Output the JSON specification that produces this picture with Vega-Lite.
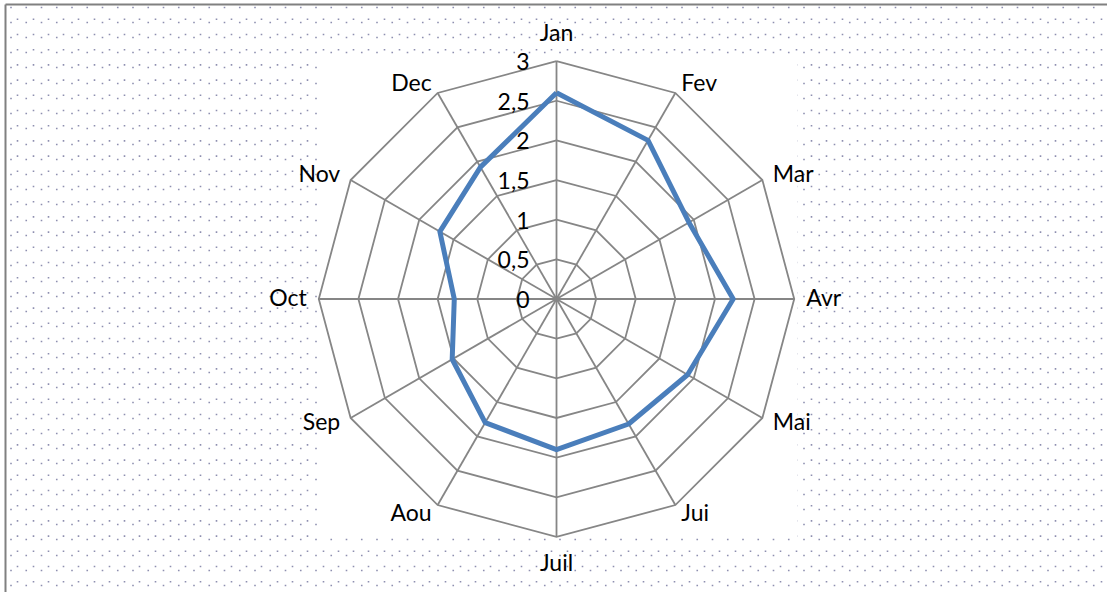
{
  "$schema": "https://vega.github.io/schema/vega-lite/v6.json",
  "width": 1107,
  "height": 592,
  "autosize": {"type": "fit", "contains": "padding"},
  "padding": {"left": 5, "top": 4, "right": 0, "bottom": 0},
  "background": "#ffffff",
  "view": {"stroke": null, "fill": null},
  "config": {"view": {"stroke": null}, "font": "Lato"},
  "datasets": {
    "months": [
      {"m": "Jan", "i": 0, "v": 2.6},
      {"m": "Fev", "i": 1, "v": 2.31},
      {"m": "Mar", "i": 2, "v": 1.93},
      {"m": "Avr", "i": 3, "v": 2.23},
      {"m": "Mai", "i": 4, "v": 1.91},
      {"m": "Jui", "i": 5, "v": 1.82},
      {"m": "Juil", "i": 6, "v": 1.9},
      {"m": "Aou", "i": 7, "v": 1.8},
      {"m": "Sep", "i": 8, "v": 1.52},
      {"m": "Oct", "i": 9, "v": 1.29},
      {"m": "Nov", "i": 10, "v": 1.7},
      {"m": "Dec", "i": 11, "v": 1.92},
      {"m": "Jan", "i": 12, "v": 2.6}
    ],
    "rings": [
      {"level": 0.5, "i": [0,1,2,3,4,5,6,7,8,9,10,11,12]},
      {"level": 1, "i": [0,1,2,3,4,5,6,7,8,9,10,11,12]},
      {"level": 1.5, "i": [0,1,2,3,4,5,6,7,8,9,10,11,12]},
      {"level": 2, "i": [0,1,2,3,4,5,6,7,8,9,10,11,12]},
      {"level": 2.5, "i": [0,1,2,3,4,5,6,7,8,9,10,11,12]},
      {"level": 3, "i": [0,1,2,3,4,5,6,7,8,9,10,11,12]}
    ],
    "ticks": [
      {"t": 0, "lab": "0"},
      {"t": 0.5, "lab": "0,5"},
      {"t": 1, "lab": "1"},
      {"t": 1.5, "lab": "1,5"},
      {"t": 2, "lab": "2"},
      {"t": 2.5, "lab": "2,5"},
      {"t": 3, "lab": "3"}
    ]
  },
  "encoding": {
    "x": {
      "field": "x",
      "type": "quantitative",
      "scale": {"domain": [-551, 550], "nice": false, "zero": false},
      "axis": {
        "orient": "top",
        "title": null,
        "labels": false,
        "ticks": false,
        "domain": true,
        "domainColor": "#808080",
        "domainWidth": 2,
        "grid": true,
        "gridColor": "#8e8fb0",
        "gridWidth": 1.6,
        "gridDash": [1.6, 13.6],
        "gridDashOffset": 5.2,
        "zindex": 0,
        "values": [-538.75,-523.5,-508.25,-493,-477.75,-462.5,-447.25,-432,-416.75,-401.5,-386.25,-371,-355.75,-340.5,-325.25,-310,-294.75,-279.5,-264.25,-249,-233.75,-218.5,-203.25,-188,-172.75,-157.5,-142.25,-127,-111.75,-96.5,-81.25,-66,-50.75,-35.5,-20.25,-5,10.25,25.5,40.75,56,71.25,86.5,101.75,117,132.25,147.5,162.75,178,193.25,208.5,223.75,239,254.25,269.5,284.75,300,315.25,330.5,345.75,361,376.25,391.5,406.75,422,437.25,452.5,467.75,483,498.25,513.5,528.75,544]
      }
    },
    "y": {
      "field": "y",
      "type": "quantitative",
      "scale": {"domain": [-292.5, 294.5], "nice": false, "zero": false},
      "axis": {
        "orient": "left",
        "title": null,
        "labels": false,
        "ticks": false,
        "domain": true,
        "domainColor": "#808080",
        "domainWidth": 2,
        "grid": true,
        "gridColor": "#8e8fb0",
        "gridWidth": 1.6,
        "gridDash": [1.6, 13.65],
        "gridDashOffset": 10.55,
        "zindex": 0,
        "values": [292,276.8,261.6,246.4,231.2,216,200.8,185.6,170.4,155.2,140,124.8,109.6,94.4,79.2,64,48.8,33.6,18.4,3.2,-12,-27.2,-42.4,-57.6,-72.8,-88,-103.2,-118.4,-133.6,-148.8,-164,-179.2,-194.4,-209.6,-224.8,-240,-255.2,-270.4,-285.6]
      }
    }
  },
  "layer": [
    {
      "data": {"values": [{"rmax": 3}]},
      "transform": [
        {"calculate": "-datum.rmax*79.1667", "as": "x"},
        {"calculate": "datum.rmax*79.1667 + 3", "as": "x2"},
        {"calculate": "datum.rmax*79.1667 + 1.3", "as": "y"},
        {"calculate": "-datum.rmax*79.1667", "as": "y2"}
      ],
      "mark": {"type": "rect", "fill": "#ffffff", "fillOpacity": 1},
      "encoding": {
        "x2": {"field": "x2"},
        "y2": {"field": "y2"}
      }
    },
    {
      "data": {"name": "rings"},
      "transform": [
        {"flatten": ["i"]},
        {"calculate": "datum.level*79.1667*sin(datum.i*PI/6)", "as": "x"},
        {"calculate": "datum.level*79.1667*cos(datum.i*PI/6)", "as": "y"}
      ],
      "mark": {"type": "line", "stroke": "#868686", "strokeWidth": 1.8},
      "encoding": {
        "detail": {"field": "level", "type": "nominal"},
        "order": {"field": "i", "type": "quantitative"}
      }
    },
    {
      "data": {"name": "months"},
      "transform": [
        {"filter": "datum.i < 12"},
        {"calculate": "0", "as": "x"},
        {"calculate": "0", "as": "y"},
        {"calculate": "237.5*sin(datum.i*PI/6)", "as": "x2"},
        {"calculate": "237.5*cos(datum.i*PI/6)", "as": "y2"}
      ],
      "mark": {"type": "rule", "stroke": "#868686", "strokeWidth": 1.8},
      "encoding": {
        "x2": {"field": "x2"},
        "y2": {"field": "y2"}
      }
    },
    {
      "data": {"name": "months"},
      "transform": [
        {"calculate": "datum.v*79.1667*sin(datum.i*PI/6)", "as": "x"},
        {"calculate": "datum.v*79.1667*cos(datum.i*PI/6)", "as": "y"}
      ],
      "mark": {"type": "line", "stroke": "#4a7ebb", "strokeWidth": 5, "strokeJoin": "round"},
      "encoding": {
        "order": {"field": "i", "type": "quantitative"}
      }
    },
    {
      "data": {"name": "ticks"},
      "transform": [
        {"calculate": "0", "as": "x"},
        {"calculate": "datum.t*79.1667", "as": "y"}
      ],
      "mark": {"type": "text", "align": "right", "baseline": "middle", "dx": -27, "dy": 2, "fontSize": 23, "color": "#000000"},
      "encoding": {"text": {"field": "lab"}}
    },
    {
      "data": {"name": "months"},
      "transform": [
        {"filter": "datum.i >= 1 && datum.i <= 5"},
        {"calculate": "249.5*sin(datum.i*PI/6)", "as": "x"},
        {"calculate": "247.5*cos(datum.i*PI/6)", "as": "y"}
      ],
      "mark": {"type": "text", "align": "left", "baseline": "middle", "fontSize": 23, "color": "#000000"},
      "encoding": {"text": {"field": "m"}}
    },
    {
      "data": {"name": "months"},
      "transform": [
        {"filter": "datum.i >= 7 && datum.i <= 11"},
        {"calculate": "249.5*sin(datum.i*PI/6)", "as": "x"},
        {"calculate": "247.5*cos(datum.i*PI/6)", "as": "y"}
      ],
      "mark": {"type": "text", "align": "right", "baseline": "middle", "fontSize": 23, "color": "#000000"},
      "encoding": {"text": {"field": "m"}}
    },
    {
      "data": {"name": "months"},
      "transform": [
        {"filter": "datum.i == 0 || datum.i == 6"},
        {"calculate": "0", "as": "x"},
        {"calculate": "265*cos(datum.i*PI/6)", "as": "y"}
      ],
      "mark": {"type": "text", "align": "center", "baseline": "middle", "fontSize": 23, "color": "#000000"},
      "encoding": {"text": {"field": "m"}}
    }
  ]
}
